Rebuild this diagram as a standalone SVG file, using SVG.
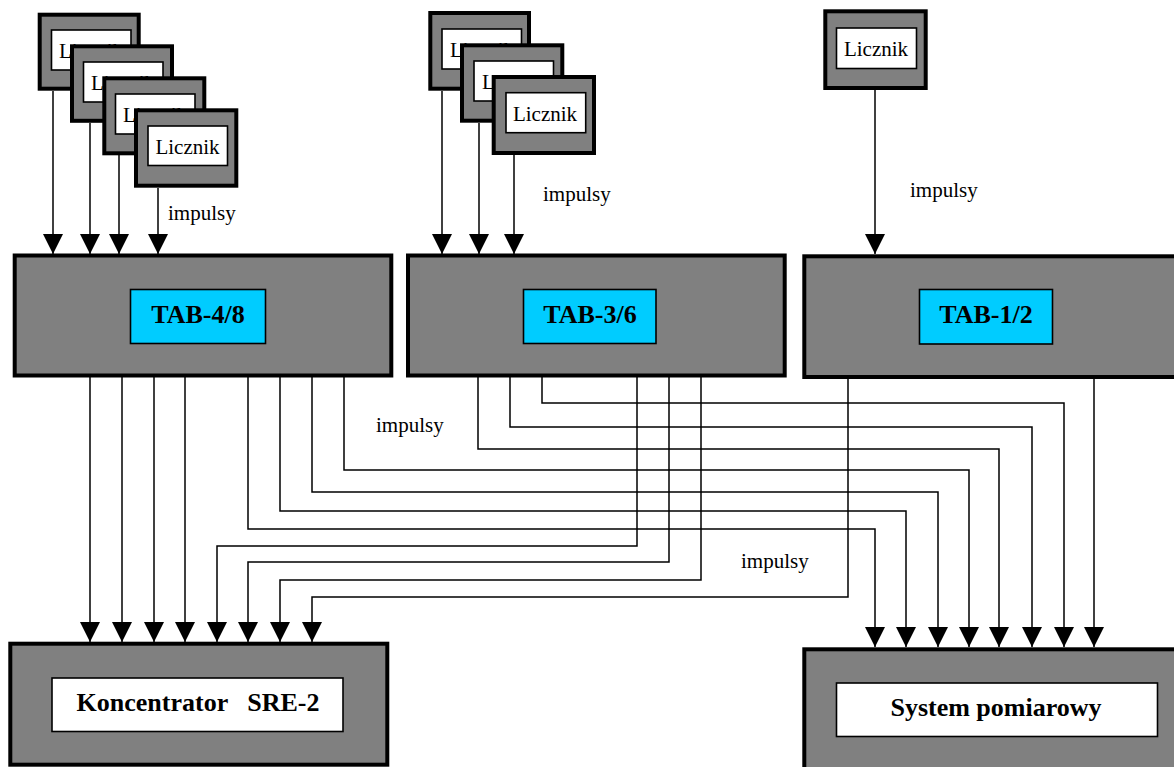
<svg xmlns="http://www.w3.org/2000/svg" width="1174" height="767" viewBox="0 0 1174 767">
<style>
.outer{fill:#808080;stroke:#000;stroke-width:4}
.inner{fill:#fff;stroke:#000;stroke-width:1.6}
.cyan{fill:#00CCFF;stroke:#000;stroke-width:1.6}
.lbl{font-family:"Liberation Serif","Times New Roman",serif;font-size:21px;fill:#000}
.ctrt{font-family:"Liberation Serif","Times New Roman",serif;font-size:21px;fill:#000;text-anchor:middle}
.bold{font-family:"Liberation Serif","Times New Roman",serif;font-size:26px;font-weight:bold;fill:#000;text-anchor:middle}
.wire{fill:none;stroke:#000;stroke-width:1.5;marker-end:url(#arr)}
</style>
<defs>
<marker id="arr" markerUnits="userSpaceOnUse" markerWidth="20" markerHeight="20" viewBox="0 0 20 20" refX="20" refY="10" orient="auto">
<path d="M0,0 L20,10 L0,20 Z" fill="#000"/>
</marker>
</defs>
<rect width="1174" height="767" fill="#fff"/>

<g id="tab48">
<rect class="outer" x="14.7" y="255.5" width="376.6" height="120"/>
<rect class="cyan" x="130.5" y="289.5" width="135" height="54"/>
<text class="bold" x="198" y="323">TAB-4/8</text>
</g>
<g id="tab36">
<rect class="outer" x="408" y="255.5" width="376.7" height="120"/>
<rect class="cyan" x="523.5" y="289.5" width="132.5" height="54"/>
<text class="bold" x="590" y="323">TAB-3/6</text>
</g>
<g id="tab12">
<rect class="outer" x="804.3" y="256.3" width="380" height="120.7"/>
<rect class="cyan" x="919.5" y="289.5" width="133" height="54.5"/>
<text class="bold" x="986" y="323">TAB-1/2</text>
</g>
<g id="koncentrator">
<rect class="outer" x="10.3" y="643.7" width="377" height="121"/>
<rect class="inner" x="52" y="678" width="291" height="53.5"/>
<text class="bold" x="198" y="711" style="white-space:pre" word-spacing="3.25">Koncentrator  SRE-2</text>
</g>
<g id="system">
<rect class="outer" x="804.3" y="649.3" width="380" height="125"/>
<rect class="inner" x="836.5" y="683" width="321" height="53.5"/>
<text class="bold" x="996" y="716">System pomiarowy</text>
</g>

<g id="connectors">
<path class="wire" d="M53,91 V254"/>
<path class="wire" d="M90,123 V254"/>
<path class="wire" d="M119,155 V254"/>
<path class="wire" d="M158,188 V254"/>
<path class="wire" d="M442,91 V254"/>
<path class="wire" d="M479,123 V254"/>
<path class="wire" d="M514,155 V254"/>
<path class="wire" d="M875,90 V254"/>

<path class="wire" d="M90,377 V642"/>
<path class="wire" d="M122,377 V642"/>
<path class="wire" d="M154,377 V642"/>
<path class="wire" d="M185,377 V642"/>
<path class="wire" d="M248,377 V529 H875 V647"/>
<path class="wire" d="M280,377 V511 H906 V647"/>
<path class="wire" d="M312,377 V492 H938 V647"/>
<path class="wire" d="M344,377 V470 H969 V647"/>
<path class="wire" d="M478,377 V449 H999 V647"/>
<path class="wire" d="M510,377 V427 H1032 V647"/>
<path class="wire" d="M542,377 V403 H1064 V647"/>
<path class="wire" d="M637,377 V546 H217 V642"/>
<path class="wire" d="M669,377 V562 H248 V642"/>
<path class="wire" d="M701,377 V580 H280 V642"/>
<path class="wire" d="M848,379 V597 H312 V642"/>
<path class="wire" d="M1094,379 V647"/>
</g>

<g id="licznik1">
<rect class="outer" x="39.7" y="14.7" width="99" height="74"/>
<rect class="inner" x="51.5" y="30" width="79.5" height="40"/>
<text class="ctrt" x="91" y="58">Licznik</text>
</g>
<g id="licznik2">
<rect class="outer" x="72" y="46.3" width="100" height="74.5"/>
<rect class="inner" x="83.5" y="62" width="79.5" height="40"/>
<text class="ctrt" x="123" y="90">Licznik</text>
</g>
<g id="licznik3">
<rect class="outer" x="104.3" y="78.3" width="100" height="75"/>
<rect class="inner" x="115.5" y="94" width="79.5" height="40"/>
<text class="ctrt" x="155" y="122">Licznik</text>
</g>
<g id="licznik4">
<rect class="outer" x="136" y="110.3" width="100.3" height="75.4"/>
<rect class="inner" x="148" y="126" width="79.5" height="39.5"/>
<text class="ctrt" x="187.5" y="154">Licznik</text>
</g>
<g id="licznik5">
<rect class="outer" x="430.3" y="13" width="98.7" height="75.7"/>
<rect class="inner" x="442" y="29" width="79.5" height="40"/>
<text class="ctrt" x="482" y="57">Licznik</text>
</g>
<g id="licznik6">
<rect class="outer" x="462" y="45.3" width="100.3" height="75.4"/>
<rect class="inner" x="474" y="61" width="79.5" height="40"/>
<text class="ctrt" x="514" y="89">Licznik</text>
</g>
<g id="licznik7">
<rect class="outer" x="493.7" y="77" width="100.3" height="76"/>
<rect class="inner" x="506" y="92.7" width="79.7" height="40"/>
<text class="ctrt" x="545" y="121">Licznik</text>
</g>
<g id="licznik8">
<rect class="outer" x="825.3" y="11.3" width="100.4" height="76.7"/>
<rect class="inner" x="836.5" y="28" width="80" height="40.5"/>
<text class="ctrt" x="876" y="56">Licznik</text>
</g>

<g id="labels">
<text class="lbl" x="168" y="220">impulsy</text>
<text class="lbl" x="543" y="201">impulsy</text>
<text class="lbl" x="910" y="197">impulsy</text>
<text class="lbl" x="376" y="432">impulsy</text>
<text class="lbl" x="741" y="568">impulsy</text>
</g>
</svg>
